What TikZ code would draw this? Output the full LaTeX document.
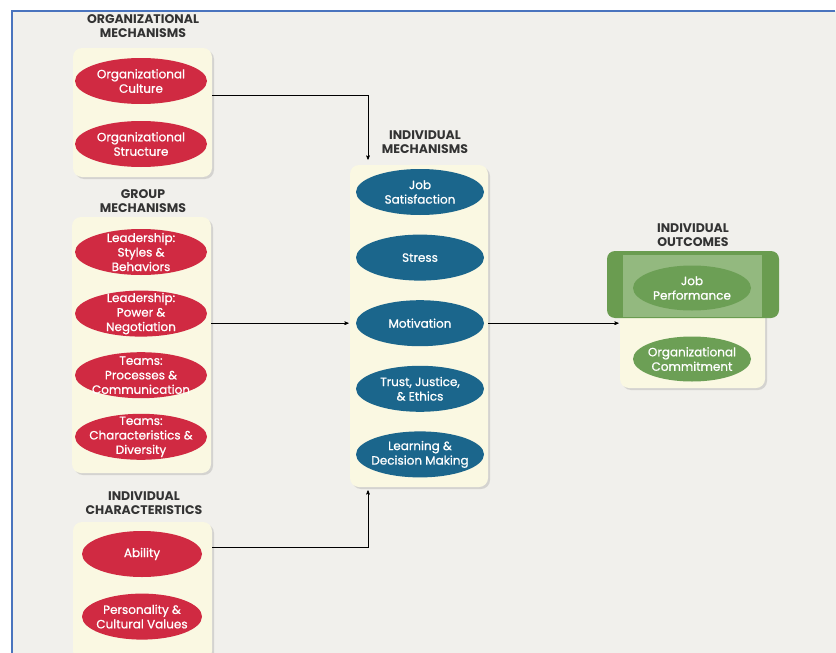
\documentclass[tikz,border=0pt]{standalone}
\usepackage{fontspec}
\setsansfont{Poppins}
\newfontfamily\blobfont[FakeBold=0.8]{Poppins}
\usetikzlibrary{arrows,positioning,shadows,calc,shapes.geometric}

\definecolor{orgred}{HTML}{D02A42}
\definecolor{indblue}{HTML}{1B668C}
\definecolor{outgreen}{HTML}{6C9F55}
\definecolor{bandgreen}{HTML}{6A9C50}
\definecolor{bandlight}{HTML}{93B97F}
\definecolor{panelcream}{HTML}{FAF8E2}
\definecolor{pagegray}{HTML}{F1F0EC}
\definecolor{frameblue}{HTML}{4A74BE}

\begin{document}
\begin{tikzpicture}[x=1pt,y=-1pt,->,>=stealth',shorten >=1pt,semithick,font=\sffamily]
  \tikzstyle{panel}=[draw=none,fill=panelcream,rounded corners=9pt,
    drop shadow={opacity=0.25,shadow xshift=2pt,shadow yshift=-2pt}]
  \tikzstyle{head}=[align=center,text=black!80,font=\sffamily\bfseries\fontsize{12.5}{14}\selectfont]
  \tikzstyle{blob}=[ellipse,draw=none,text=white,align=center,inner xsep=-25pt,inner ysep=-15pt,
    font=\blobfont\fontsize{12}{14.5}\selectfont]
  \tikzstyle{redblob}=[blob,fill=orgred,minimum width=132pt,minimum height=46pt]
  \tikzstyle{blueblob}=[blob,fill=indblue,minimum width=128pt,minimum height=46pt]
  \tikzstyle{greenblob}=[blob,fill=outgreen,minimum width=118pt,minimum height=45pt]

  \useasboundingbox (0,0) rectangle (836,653);
  \fill[white] (0,0) rectangle (836,653);
  \fill[pagegray] (12,11) rectangle (836,653);
  \draw[-,frameblue,line width=2pt] (12,653) -- (12,11) -- (836,11);

  % panels
  \node[panel,minimum width=139pt,minimum height=129pt] (orgbox) at (142.5,112.5) {};
  \node[panel,minimum width=139pt,minimum height=256pt] (grpbox) at (141.5,345) {};
  \node[panel,minimum width=139pt,minimum height=138pt] (chrbox) at (142.5,591) {};
  \node[panel,minimum width=138pt,minimum height=322pt] (indbox) at (419,326) {};
  \node[panel,minimum width=145pt,minimum height=133pt] (outbox) at (692.5,321.5) {};
  \node[fill=bandgreen,rounded corners=8pt,minimum width=172pt,minimum height=67pt] (perfband) at (693,284.5) {};
  \node[fill=bandlight,minimum width=139pt,minimum height=62pt] (perfinner) at (692.5,285.5) {};

  % headings
  \node[head] (orghead) at (143,26)  {ORGANIZATIONAL\\MECHANISMS};
  \node[head] (grphead) at (143,201) {GROUP\\MECHANISMS};
  \node[head] (chrhead) at (144,503) {INDIVIDUAL\\CHARACTERISTICS};
  \node[head] (indhead) at (425,142) {INDIVIDUAL\\MECHANISMS};
  \node[head] (outhead) at (693,235) {INDIVIDUAL\\OUTCOMES};

  % organizational mechanisms
  \node[redblob] (culture)   at (141,81)  {Organizational\\Culture};
  \node[redblob] (structure) at (141,144) {Organizational\\Structure};

  % group mechanisms
  \node[redblob] (styles) at (141,252)            {Leadership:\\Styles \&\\Behaviors};
  \node[redblob] (power)  [below=15pt of styles]  {Leadership:\\Power \&\\Negotiation};
  \node[redblob] (proc)   [below=15pt of power]   {Teams:\\Processes \&\\Communication};
  \node[redblob] (divers) [below=15pt of proc]    {Teams:\\Characteristics \&\\Diversity};

  % individual characteristics
  \node[redblob,minimum width=120pt] (ability) at (142,554)          {Ability};
  \node[redblob,minimum width=120pt] (values)  [below=16pt of ability] {Personality \&\\Cultural Values};

  % individual mechanisms
  \node[blueblob] (jobsat) at (420,192)            {Job\\Satisfaction};
  \node[blueblob] (stress) [below=19pt of jobsat]  {Stress};
  \node[blueblob] (motiv)  [below=19pt of stress]  {Motivation};
  \node[blueblob] (trust)  [below=19pt of motiv]   {Trust, Justice,\\\& Ethics};
  \node[blueblob] (learn)  [below=19pt of trust]   {Learning \&\\Decision Making};

  % individual outcomes
  \node[greenblob] (perform) at (692,288) {Job\\Performance};
  \node[greenblob] (commit)  at (692,359) {Organizational\\Commitment};

  \draw ($(orgbox.east)+(0,-17)$) -| ($(indbox.north)+(-51,-4)$);
  \draw (grpbox.east |- motiv) -- (indbox.west |- motiv);
  \draw ($(chrbox.east |- ability)+(0,-7)$) -| ($(indbox.south)+(-51,2)$);
  \draw (indbox.east |- motiv) -- (outbox.west |- motiv);
\end{tikzpicture}
\end{document}
